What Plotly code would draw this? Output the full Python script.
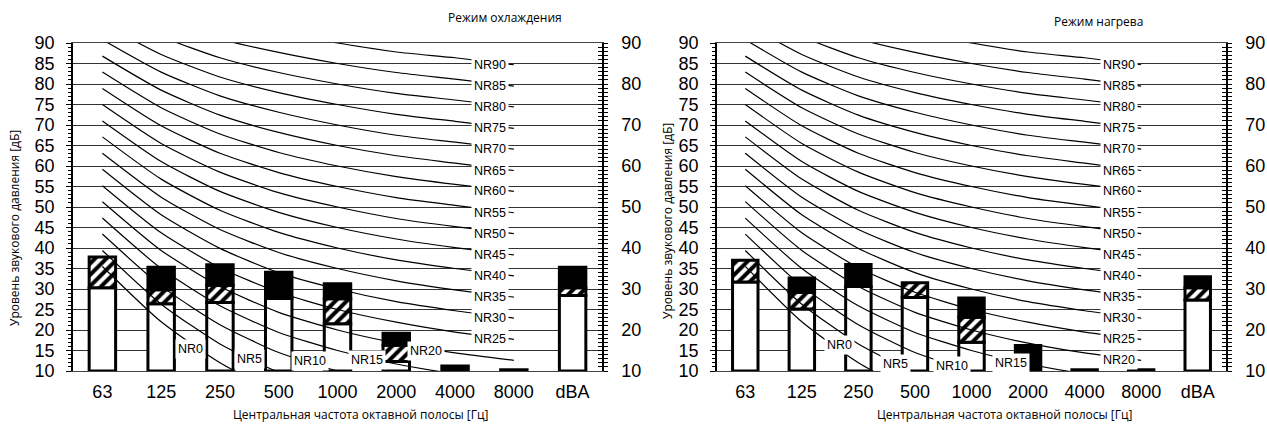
import plotly.graph_objects as go

# Octave bands on the category axis
BANDS = ["63", "125", "250", "500", "1000", "2000", "4000", "8000", "dBA"]
CURVE_BANDS = BANDS[:8]

# NR rating curves: sound level per band, rows follow NR_LEVELS
NR_LEVELS = [0, 5, 10, 15, 20, 25, 30, 35, 40, 45, 50, 55, 60, 65, 70, 75, 80, 85, 90]
NR_63 = [35.5, 39.4, 43.4, 47.3, 51.3, 55.2, 59.2, 63.1, 67.1, 71.0, 75.0, 78.9, 82.9, 86.8, 90.8, 94.7, 98.7, 102.6, 106.6]
NR_125 = [22.0, 26.3, 30.7, 35.0, 39.4, 43.7, 48.1, 52.4, 56.8, 61.1, 65.5, 69.8, 74.2, 78.5, 82.9, 87.2, 91.6, 95.9, 100.3]
NR_250 = [12.0, 16.6, 21.3, 25.9, 30.6, 35.2, 39.9, 44.5, 49.2, 53.8, 58.5, 63.1, 67.8, 72.4, 77.1, 81.7, 86.4, 91.0, 95.7]
NR_500 = [4.8, 9.7, 14.5, 19.4, 24.3, 29.2, 34.0, 38.9, 43.8, 48.7, 53.5, 58.4, 63.3, 68.2, 73.1, 77.9, 82.8, 87.7, 92.6]
NR_1000 = [0.0, 5.0, 10.0, 15.0, 20.0, 25.0, 30.0, 35.0, 40.0, 45.0, 50.0, 55.0, 60.0, 65.0, 70.0, 75.0, 80.0, 85.0, 90.0]
NR_2000 = [-3.5, 1.6, 6.6, 11.7, 16.8, 21.9, 26.9, 32.0, 37.1, 42.2, 47.2, 52.3, 57.4, 62.5, 67.5, 72.6, 77.7, 82.8, 87.8]
NR_4000 = [-6.1, -1.0, 4.2, 9.3, 14.4, 19.5, 24.7, 29.8, 35.0, 40.1, 45.2, 50.4, 55.5, 60.7, 65.8, 70.9, 76.1, 81.2, 86.4]
NR_8000 = [-8.0, -2.8, 2.3, 7.4, 12.6, 17.7, 22.9, 28.0, 33.2, 38.3, 43.5, 48.6, 53.8, 58.9, 64.1, 69.2, 74.4, 79.5, 84.7]

# Cooling mode: top of white part, top of hatched part, total level (dB)
COOL_WHITE = [30.3, 26.4, 26.7, 27.7, 21.5, 12.3, None, None, 28.4]
COOL_HATCH = [37.8, 29.8, 30.9, None, 27.6, 16.3, None, None, 30.3]
COOL_TOTAL = [37.8, 35.3, 35.9, 34.1, 31.3, 19.2, 11.2, 10.3, 35.3]

# Heating mode
HEAT_WHITE = [31.7, 25.1, 30.6, 27.9, 17.0, None, None, None, 27.3]
HEAT_HATCH = [37.0, 29.2, None, 31.5, 23.1, None, None, None, 30.3]
HEAT_TOTAL = [37.0, 32.7, 36.0, 31.5, 27.8, 16.2, 10.3, 10.3, 33.0]

Y_MIN, Y_MAX = 10, 90

# Hand-placed labels for the low NR curves: (category position, level)
COOL_LOW_LABELS = {0: (1.5, 15.4), 5: (2.5, 13.0), 10: (3.53, 12.5), 15: (4.5, 12.7), 20: (5.5, 15.0)}
HEAT_LOW_LABELS = {0: (1.66, 16.4), 5: (2.66, 11.8), 10: (3.65, 11.3), 15: (4.69, 12.0)}

W, H = 1267, 428
AX_FONT = "Liberation Sans, Arial, sans-serif"
TXT_FONT = "Open Sans, sans-serif"


def segments(white, hatch, total):
    """Split each bar into white / hatched / black stacked pieces."""
    w_b, w_h, h_b, h_h, k_b, k_h = [], [], [], [], [], []
    for wt, ht, tt in zip(white, hatch, total):
        if wt is not None:
            w_b.append(Y_MIN); w_h.append(wt - Y_MIN)
        else:
            w_b.append(None); w_h.append(None)
        low = wt if wt is not None else Y_MIN
        if ht is not None:
            h_b.append(low); h_h.append(ht - low)
        else:
            h_b.append(None); h_h.append(None)
        low = ht if ht is not None else low
        if tt - low > 0.05:
            k_b.append(low); k_h.append(tt - low)
        else:
            k_b.append(None); k_h.append(None)
    return (w_b, w_h), (h_b, h_h), (k_b, k_h)


fig = go.Figure()

panels = [
    dict(x="x", y="y", yr="y2", yi="y3", white=COOL_WHITE, hatch=COOL_HATCH, total=COOL_TOTAL,
         low=COOL_LOW_LABELS, shift=-24),
    dict(x="x2", y="y4", yr="y5", yi="y6", white=HEAT_WHITE, hatch=HEAT_HATCH, total=HEAT_TOTAL,
         low=HEAT_LOW_LABELS, shift=-22),
]

bar_line = dict(color="black", width=3)
annotations = []

for p in panels:
    (wb, wh), (hb, hh), (kb, kh) = segments(p["white"], p["hatch"], p["total"])
    fig.add_trace(go.Bar(x=BANDS, y=wh, base=wb, width=0.45, xaxis=p["x"], yaxis=p["y"],
                         marker=dict(color="white", line=bar_line), showlegend=False))
    fig.add_trace(go.Bar(x=BANDS, y=hh, base=hb, width=0.45, xaxis=p["x"], yaxis=p["y"],
                         marker=dict(color="white", line=bar_line,
                                     pattern=dict(shape="/", fgcolor="#000000", bgcolor="#ffffff",
                                                  fgopacity=1, size=8, solidity=0.5)),
                         showlegend=False))
    fig.add_trace(go.Bar(x=BANDS, y=kh, base=kb, width=0.45, xaxis=p["x"], yaxis=p["y"],
                         marker=dict(color="black", line=bar_line), showlegend=False))

    for i, lvl in enumerate(NR_LEVELS):
        ys = [NR_63[i], NR_125[i], NR_250[i], NR_500[i], NR_1000[i], NR_2000[i], NR_4000[i], NR_8000[i]]
        fig.add_trace(go.Scatter(x=CURVE_BANDS, y=ys, mode="lines", xaxis=p["x"], yaxis=p["y"],
                                 line=dict(color="black", width=1.2, shape="spline", smoothing=0.6),
                                 showlegend=False, hoverinfo="skip"))
        if lvl in p["low"]:
            ax_pos, ay_pos = p["low"][lvl]
            xshift = 0
        else:
            ax_pos, ay_pos = 7, NR_8000[i]
            xshift = p["shift"]
        annotations.append(dict(x=ax_pos, y=ay_pos, xref=p["x"], yref=p["y"], text=f"NR{lvl}",
                                xanchor="center", yanchor="middle",
                                showarrow=False, xshift=xshift, bgcolor="white", borderpad=2,
                                font=dict(family=AX_FONT, size=12.5, color="black")))

    # empty traces so the extra right-hand axes are drawn
    for ya in (p["yr"], p["yi"]):
        fig.add_trace(go.Scatter(x=[None], y=[None], xaxis=p["x"], yaxis=ya,
                                 showlegend=False, hoverinfo="skip"))

y_dom = [1 - 371 / H, 1 - 43 / H]
x_doms = [[73 / W, 602 / W], [717 / W, 1226 / W]]

tick_font = dict(family=AX_FONT, size=18, color="black")


def x_axis(dom, anchor):
    return dict(domain=dom, anchor=anchor, type="category", categoryorder="array",
                categoryarray=BANDS, range=[-0.5, 8.5], showgrid=False, ticks="",
                showline=True, linecolor="#444", linewidth=1, mirror=True, automargin=False,
                tickfont=tick_font, ticklabelstandoff=4, fixedrange=True)


def y_left(anchor):
    return dict(domain=y_dom, anchor=anchor, range=[Y_MIN, Y_MAX], tick0=10, dtick=5,
                showgrid=True, gridcolor="#333", gridwidth=1, zeroline=False, automargin=False,
                showline=True, linecolor="black", linewidth=1.5,
                ticks="outside", ticklen=5, tickcolor="black", tickfont=tick_font,
                ticklabelstandoff=8,
                minor=dict(dtick=1, tick0=10, ticks="outside", ticklen=3, tickcolor="black",
                           showgrid=False))


def y_right(over, anchor):
    return dict(overlaying=over, anchor=anchor, side="right", range=[Y_MIN, Y_MAX], tick0=10,
                dtick=10, showgrid=False, zeroline=False, showline=True, linecolor="black",
                linewidth=1.5, ticks="outside", ticklen=4, tickcolor="black", tickfont=tick_font,
                ticklabelstandoff=10, automargin=False,
                minor=dict(dtick=1, tick0=10, ticks="outside", ticklen=4, tickcolor="black",
                           showgrid=False))


def y_inner(over, anchor):
    return dict(overlaying=over, anchor=anchor, side="right", range=[Y_MIN, Y_MAX], tick0=10,
                dtick=10, showgrid=False, zeroline=False, showline=False, showticklabels=False,
                ticks="inside", ticklen=4, tickcolor="black", automargin=False,
                minor=dict(dtick=1, tick0=10, ticks="inside", ticklen=4, tickcolor="black",
                           showgrid=False))


txt = dict(family=TXT_FONT, size=12, color="black")


def label(px, py, text, angle=0):
    return dict(x=px / W, y=1 - py / H, xref="paper", yref="paper", text=text, textangle=angle,
                xanchor="center", yanchor="middle", showarrow=False, font=txt)


annotations += [
    label(505, 17, "Режим охлаждения"),
    label(1098, 21, "Режим нагрева"),
    label(360, 414, "Центральная частота октавной полосы [Гц]"),
    label(1004, 414, "Центральная частота октавной полосы [Гц]"),
    label(15, 228, "Уровень звукового давления [дБ]", -90),
    label(667, 221, "Уровень звукового давления [дБ]", -90),
]

fig.update_layout(
    width=W, height=H, margin=dict(l=0, r=0, t=0, b=0, autoexpand=False),
    paper_bgcolor="white", plot_bgcolor="white", barmode="overlay", showlegend=False,
    xaxis=x_axis(x_doms[0], "y"), xaxis2=x_axis(x_doms[1], "y4"),
    yaxis=y_left("x"), yaxis2=y_right("y", "x"), yaxis3=y_inner("y", "x"),
    yaxis4=y_left("x2"), yaxis5=y_right("y4", "x2"), yaxis6=y_inner("y4", "x2"),
    annotations=annotations,
)

fig.write_html("out.html")
